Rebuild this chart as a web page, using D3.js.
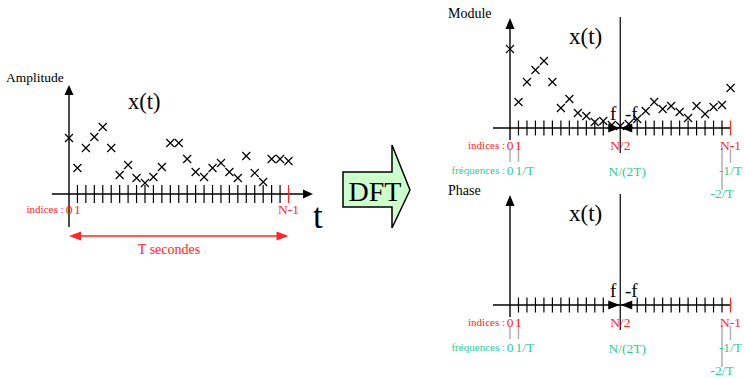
<!DOCTYPE html>
<html>
<head>
<meta charset="utf-8">
<script src="https://cdn.jsdelivr.net/npm/d3@7"></script>
<style>
  body { margin: 0; background: #fff; }
  svg { display: block; }
  text { font-family: "Liberation Serif", "Times New Roman", serif; }
</style>
</head>
<body>
<div id="chart"></div>
<script>
// samples (index 0 .. N-1)
var N = 27;
var amplitude = [56, 26, 46, 57, 67, 46, 19, 29, 16, 11, 17, 27, 51, 51, 35, 22, 17, 26, 31, 22, 16, 38, 21, 12, 35, 35, 33];
var moduleValues = [79, 26, 46, 58, 67, 46, 20, 29, 15, 12, 6, 7, 3, 2, 4, 9, 17, 26, 19, 22, 16, 10, 22, 14, 21, 23, 40];

// tick labels
var timeTicks = [0, 1, 26];
var timeNames = ["0", "1", "N-1"];
var indexTicks = [0, 1, 13, 26];
var indexNames = ["0", "1", "N/2", "N-1"];
var freqTicks = [0, 1, 13, 26, 25];
var freqNames = ["0", "1/T", "N/(2T)", "-1/T", "-2/T"];

var red = "#ff2626", teal = "#2ecc98", grey = "#b0b0b0";

var svg = d3.select("#chart").append("svg")
    .attr("width", 744)
    .attr("height", 378)
    .style("background", "#fff");

function cross(g, data, x, y) {
  g.selectAll("path.cross")
    .data(data)
    .enter()
    .append("path")
      .attr("class", "cross")
      .attr("d", function(d, i) {
        var cx = x(i), cy = y(d), s = 4;
        return "M" + (cx - s) + "," + (cy - s) + "L" + (cx + s) + "," + (cy + s) +
               "M" + (cx - s) + "," + (cy + s) + "L" + (cx + s) + "," + (cy - s);
      })
      .attr("stroke", "#000")
      .attr("stroke-width", 1.2)
      .attr("fill", "none");
}

function line(g, x1, y1, x2, y2, color, w) {
  return g.append("line")
    .attr("x1", x1).attr("y1", y1).attr("x2", x2).attr("y2", y2)
    .attr("stroke", color || "#000")
    .attr("stroke-width", w || 1.4);
}

function tri(g, pts) {
  return g.append("polygon")
    .attr("points", pts.map(function(p) { return p.join(","); }).join(" "))
    .attr("fill", "#000");
}

// ---------- left panel : x(t) ----------
var left = svg.append("g");
var axY = 194;
var xl = d3.scaleLinear().domain([0, N - 1]).range([69, 288.5]);
var yl = d3.scaleLinear().domain([0, 100]).range([axY, axY - 100]);

line(left, 52, axY, 305, axY);
tri(left, [[313, axY], [303, axY - 4.5], [303, axY + 4.5]]);
line(left, xl(0), 227, xl(0), 93);
tri(left, [[xl(0), 85], [xl(0) - 4.5, 95], [xl(0) + 4.5, 95]]);

d3.range(1, N).forEach(function(i) {
  line(left, xl(i), axY - 9, xl(i), axY + 9, i === N - 1 ? red : "#000", 1.2);
});

cross(left, amplitude, xl, yl);

left.append("text").attr("x", 6).attr("y", 81.5)
  .style("font-size", "13.5px").text("Amplitude");
left.append("text").attr("x", 128).attr("y", 109)
  .style("font-size", "22.5px").text("x(t)");
left.append("text").attr("x", 313).attr("y", 228)
  .style("font-size", "35px").text("t");

left.append("text").attr("x", 63.5).attr("y", axY + 19)
  .attr("text-anchor", "end").style("font-size", "11px").attr("fill", red)
  .text("indices :");
left.selectAll("text.tl")
  .data(timeTicks)
  .enter()
  .append("text")
    .attr("class", "tl")
    .attr("x", function(d) { return xl(d); })
    .attr("y", axY + 20)
    .attr("text-anchor", "middle")
    .style("font-size", "13.5px")
    .attr("fill", red)
    .text(function(d, i) { return timeNames[i]; });

// T secondes double arrow
line(left, xl(0) + 10, 236, xl(N - 1) - 10, 236, red, 1.6);
left.append("polygon")
  .attr("points", [[xl(0), 236], [xl(0) + 12, 231.5], [xl(0) + 12, 240.5]].join(" "))
  .attr("fill", red);
left.append("polygon")
  .attr("points", [[xl(N - 1), 236], [xl(N - 1) - 12, 231.5], [xl(N - 1) - 12, 240.5]].join(" "))
  .attr("fill", red);
left.append("text").attr("x", 169).attr("y", 254)
  .attr("text-anchor", "middle").style("font-size", "14px").attr("fill", red)
  .text("T secondes");

// ---------- DFT arrow ----------
svg.append("polygon")
  .attr("points", [[343, 172], [392, 172], [392, 145], [410, 190], [392, 228], [392, 207], [343, 207]].join(" "))
  .attr("fill", "#ccffcc")
  .attr("stroke", "#000")
  .attr("stroke-width", 1.5);
svg.append("text").attr("x", 375).attr("y", 201)
  .attr("text-anchor", "middle").style("font-size", "28px").text("DFT");

// ---------- right panels : Module / Phase ----------
var xr = d3.scaleLinear().domain([0, N - 1]).range([510, 730.5]);

function spectrum(axisY, title, values) {
  var g = svg.append("g");
  var yr = d3.scaleLinear().domain([0, 100]).range([axisY, axisY - 100]);
  var mid = xr(13);

  // axes
  line(g, 493, axisY, xr(N - 1), axisY);
  line(g, xr(0), axisY + 12, xr(0), axisY - 100);
  tri(g, [[xr(0), axisY - 110], [xr(0) - 4.5, axisY - 99], [xr(0) + 4.5, axisY - 99]]);
  line(g, mid, axisY - 111, mid, axisY + 25, "#000", 1.2);

  d3.range(1, N).forEach(function(i) {
    if (i >= 12 && i <= 14) return;
    line(g, xr(i), axisY - 7.5, xr(i), axisY + 7.5, i === N - 1 ? red : "#000", 1.2);
  });

  // f / -f arrowheads
  tri(g, [[mid - 0.5, axisY], [mid - 12, axisY - 4.5], [mid - 12, axisY + 4.5]]);
  tri(g, [[mid + 0.5, axisY], [mid + 12, axisY - 4.5], [mid + 12, axisY + 4.5]]);

  if (values) cross(g, values, xr, yr);

  g.append("text").attr("x", mid - 7).attr("y", axisY - 8)
    .attr("text-anchor", "middle").style("font-size", "19px").text("f");
  g.append("text").attr("x", mid + 11).attr("y", axisY - 8)
    .attr("text-anchor", "middle").style("font-size", "19px").text("-f");

  g.append("text").attr("x", 448).attr("y", axisY - 110.5)
    .style("font-size", "14px").text(title);
  g.append("text").attr("x", 569).attr("y", axisY - 84)
    .style("font-size", "23px").text("x(t)");

  // grey connectors from indices to frequencies
  [[0, 21, 34], [1, 14, 34], [25, 20, 62], [26, 21, 35]].forEach(function(c) {
    line(g, xr(c[0]), axisY + c[1], xr(c[0]), axisY + c[2], grey, 1.5);
  });

  g.append("text").attr("x", 505).attr("y", axisY + 21)
    .attr("text-anchor", "end").style("font-size", "11px").attr("fill", red)
    .text("indices :");
  g.selectAll("text.il")
    .data(indexTicks)
    .enter()
    .append("text")
      .attr("class", "il")
      .attr("x", function(d) { return xr(d); })
      .attr("y", axisY + 22)
      .attr("text-anchor", "middle")
      .style("font-size", "13.5px")
      .attr("fill", red)
      .text(function(d, i) { return indexNames[i]; });

  g.append("text").attr("x", 505).attr("y", axisY + 46)
    .attr("text-anchor", "end").style("font-size", "11px").attr("fill", teal)
    .text("fréquences :");
  g.selectAll("text.fl")
    .data(freqTicks)
    .enter()
    .append("text")
      .attr("class", "fl")
      .attr("x", function(d, i) {
        if (i === 1) return xr(d) - 3;
        if (i === 2) return xr(d) + 7;
        return xr(d);
      })
      .attr("y", function(d, i) {
        if (i === 2) return axisY + 48;
        if (i === 4) return axisY + 70;
        return axisY + 47;
      })
      .attr("text-anchor", function(d, i) { return i === 1 ? "start" : "middle"; })
      .style("font-size", "13.5px")
      .attr("fill", teal)
      .text(function(d, i) { return freqNames[i]; });
}

spectrum(128, "Module", moduleValues);
spectrum(305, "Phase", null);
</script>
</body>
</html>
